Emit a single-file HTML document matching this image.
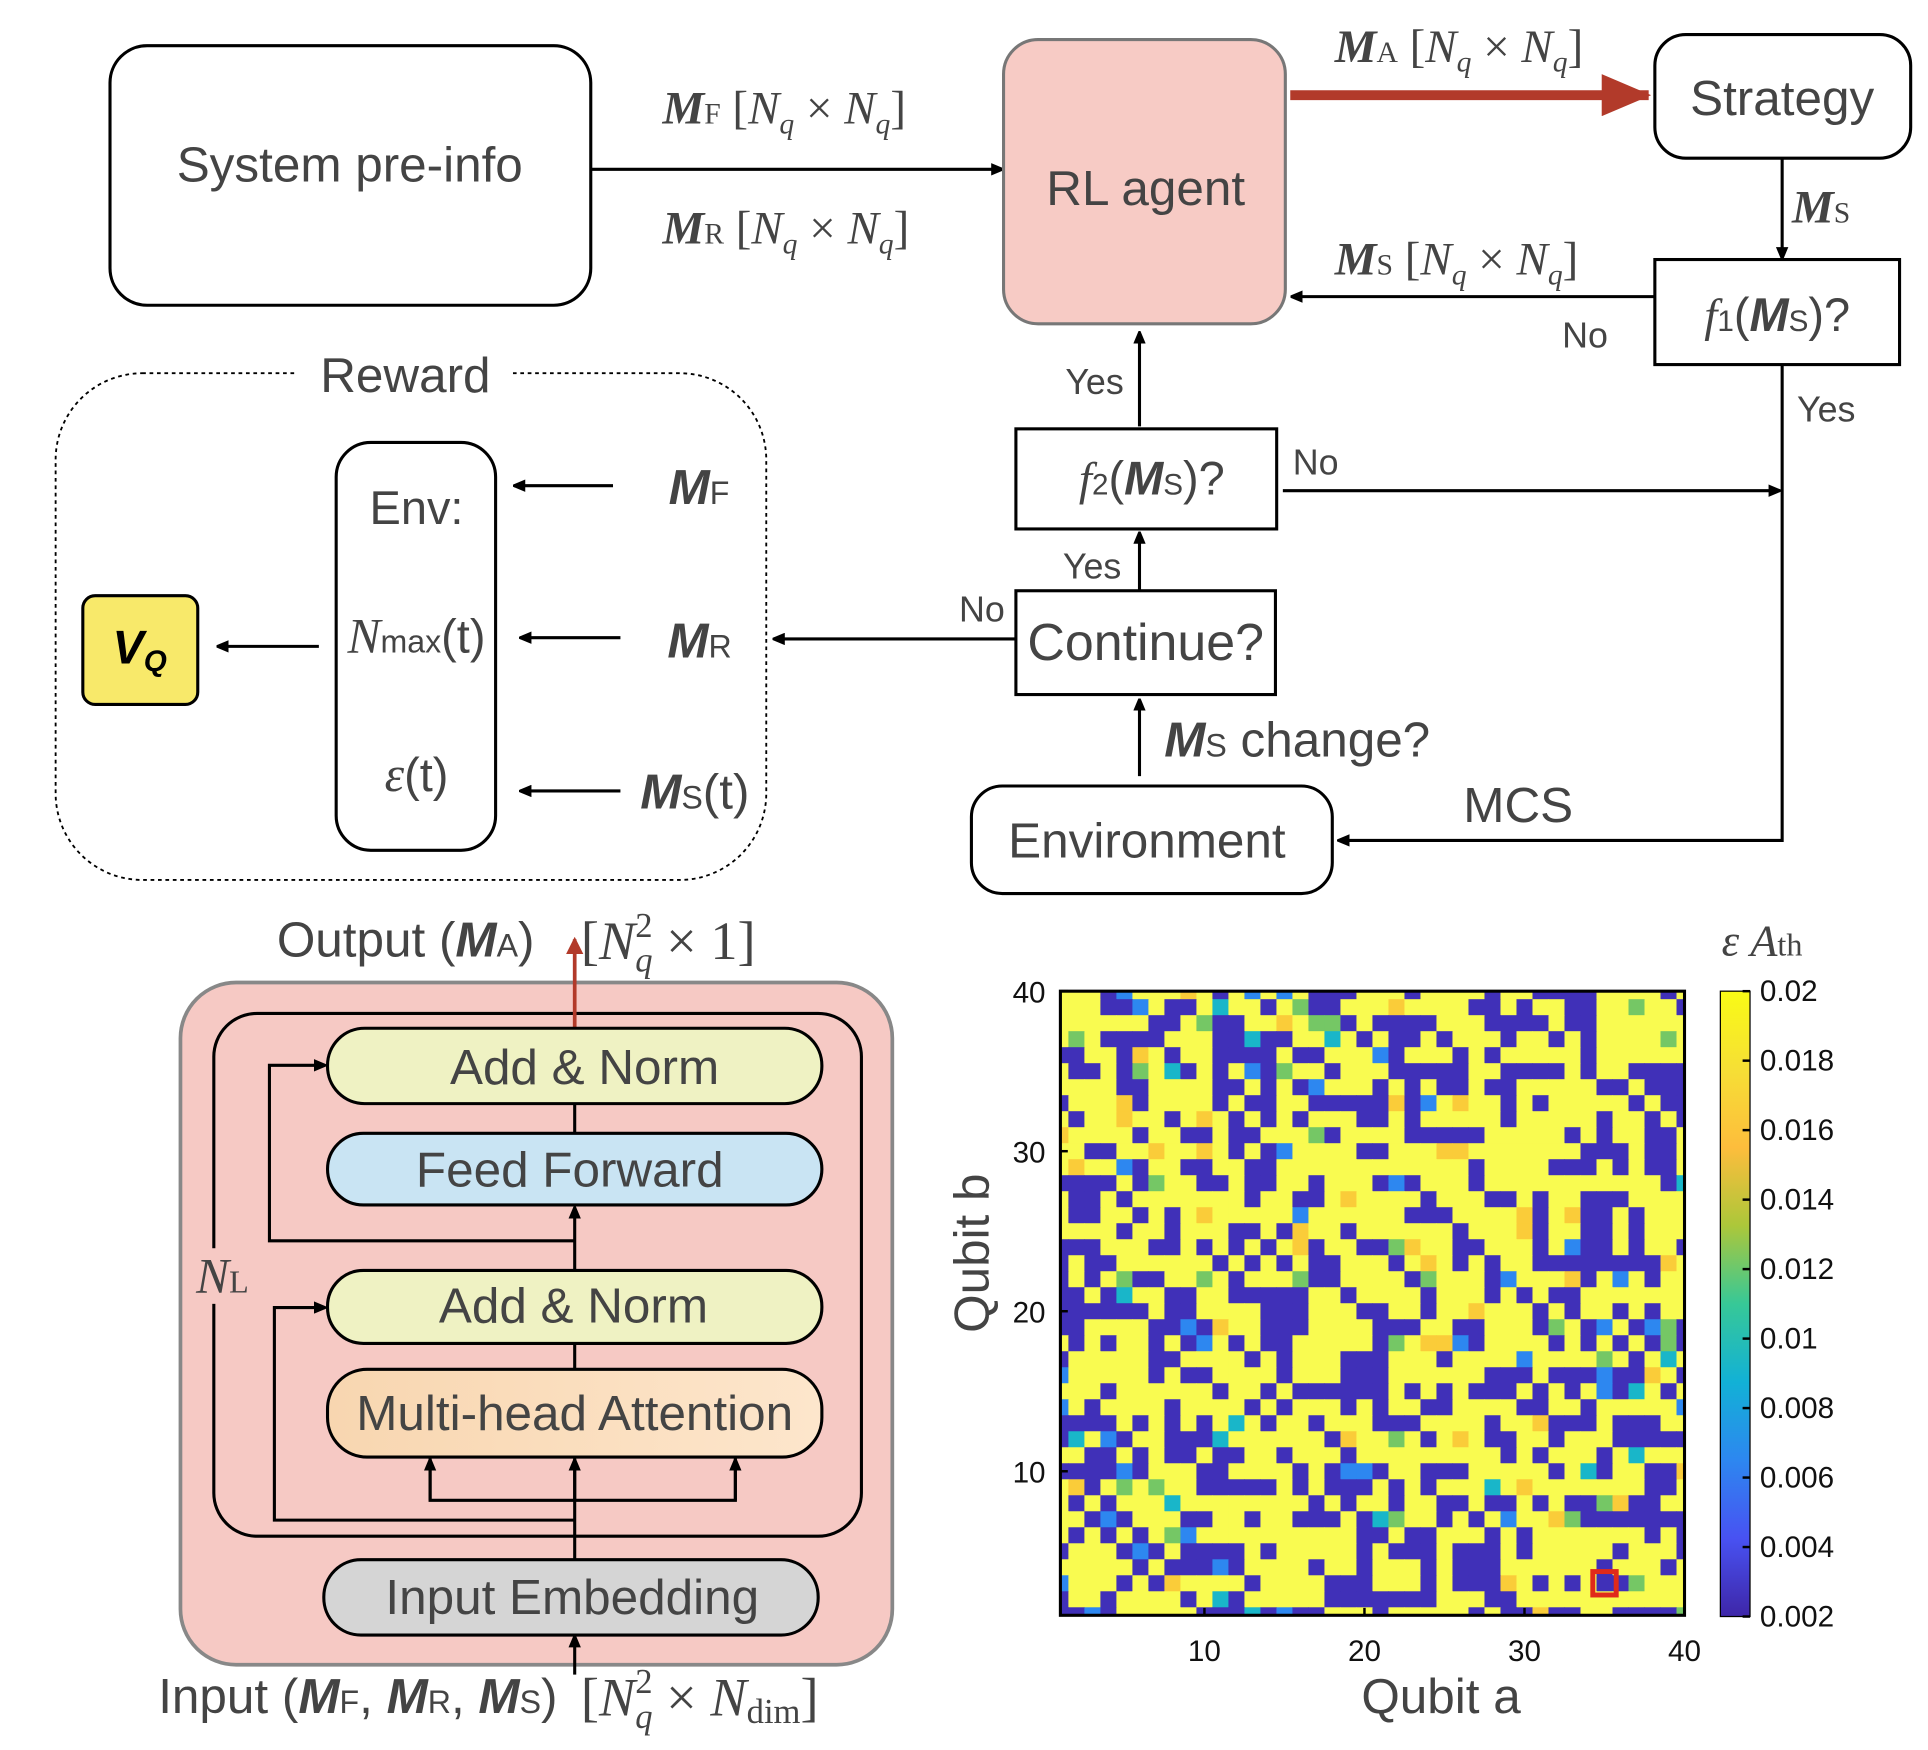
<!DOCTYPE html>
<html><head><meta charset="utf-8">
<style>
html,body{margin:0;padding:0;background:#fff;overflow:hidden;}
svg{display:block;}
.s{font-family:"Liberation Sans",sans-serif;fill:#444;}
.r{font-family:"Liberation Serif",serif;fill:#444;}
</style></head>
<body>
<svg id="fig" width="1928" height="1750" viewBox="0 0 1560 1416" xmlns="http://www.w3.org/2000/svg">
<defs>
<marker id="ah" markerWidth="10" markerHeight="10" refX="9" refY="5" orient="auto" markerUnits="userSpaceOnUse"><path d="M0,0 L12,5 L0,10 Z" fill="#000"/></marker>
<marker id="ahr" markerWidth="14" markerHeight="14" refX="12" refY="7" orient="auto" markerUnits="userSpaceOnUse"><path d="M0,0 L14,7 L0,14 Z" fill="#b23a2a"/></marker>
<marker id="ahr2" markerWidth="40" markerHeight="34" refX="38" refY="17" orient="auto" markerUnits="userSpaceOnUse"><path d="M0,0 L40,17 L0,34 Z" fill="#b23a2a"/></marker>
<linearGradient id="cb" x1="0" y1="1" x2="0" y2="0">
<stop offset="0" stop-color="#3e26a8"/><stop offset="0.125" stop-color="#4852f2"/><stop offset="0.25" stop-color="#2d87f0"/><stop offset="0.375" stop-color="#12b1d6"/><stop offset="0.5" stop-color="#37c897"/><stop offset="0.625" stop-color="#acc73a"/><stop offset="0.75" stop-color="#fdbd3c"/><stop offset="0.875" stop-color="#f6df35"/><stop offset="1" stop-color="#f9fb15"/>
</linearGradient>
<linearGradient id="mha" x1="0" y1="0" x2="1" y2="0"><stop offset="0" stop-color="#f8d6b0"/><stop offset="1" stop-color="#fde6cc"/></linearGradient>
</defs>

<!-- Top flowchart -->
<rect x="89" y="37" width="389" height="210" rx="30" fill="#fff" stroke="#000" stroke-width="2.5"/>
<text class="s" x="283" y="147" font-size="40" text-anchor="middle">System pre-info</text>
<line x1="478" y1="137" x2="811" y2="137" stroke="#000" stroke-width="2.5" marker-end="url(#ah)"/>
<text class="r" x="536" y="100" font-size="38"><tspan font-weight="bold" font-style="italic">M</tspan><tspan font-size="24">F</tspan> [<tspan font-style="italic">N</tspan><tspan font-style="italic" font-size="24" dy="8">q</tspan><tspan dy="-8"> × </tspan><tspan font-style="italic">N</tspan><tspan font-style="italic" font-size="24" dy="8">q</tspan><tspan dy="-8">]</tspan></text>
<text class="r" x="536" y="197" font-size="38"><tspan font-weight="bold" font-style="italic">M</tspan><tspan font-size="24">R</tspan> [<tspan font-style="italic">N</tspan><tspan font-style="italic" font-size="24" dy="8">q</tspan><tspan dy="-8"> × </tspan><tspan font-style="italic">N</tspan><tspan font-style="italic" font-size="24" dy="8">q</tspan><tspan dy="-8">]</tspan></text>

<rect x="812" y="32" width="228" height="230" rx="28" fill="#f7cbc5" stroke="#777" stroke-width="2.5"/>
<text class="s" x="927" y="166" font-size="40" text-anchor="middle">RL agent</text>
<line x1="1044" y1="77" x2="1334" y2="77" stroke="#b23a2a" stroke-width="8" marker-end="url(#ahr2)"/>
<text class="r" x="1080" y="50" font-size="38"><tspan font-weight="bold" font-style="italic">M</tspan><tspan font-size="24">A</tspan> [<tspan font-style="italic">N</tspan><tspan font-style="italic" font-size="24" dy="8">q</tspan><tspan dy="-8"> × </tspan><tspan font-style="italic">N</tspan><tspan font-style="italic" font-size="24" dy="8">q</tspan><tspan dy="-8">]</tspan></text>

<rect x="1339" y="28" width="207" height="100" rx="25" fill="#fff" stroke="#000" stroke-width="2.5"/>
<text class="s" x="1442" y="93" font-size="40" text-anchor="middle">Strategy</text>
<line x1="1442" y1="128" x2="1442" y2="209" stroke="#000" stroke-width="2.5" marker-end="url(#ah)"/>
<text class="r" x="1450" y="180" font-size="38"><tspan font-weight="bold" font-style="italic">M</tspan><tspan font-size="24">S</tspan></text>

<rect x="1339" y="210" width="198" height="85" fill="#fff" stroke="#000" stroke-width="2.5"/>
<text class="s" x="1438" y="268" font-size="38" text-anchor="middle"><tspan class="r" font-style="italic">f</tspan><tspan font-size="24">1</tspan>(<tspan font-weight="bold" font-style="italic">M</tspan><tspan font-size="24">S</tspan>)?</text>
<line x1="1339" y1="240" x2="1045" y2="240" stroke="#000" stroke-width="2.5" marker-end="url(#ah)"/>
<text class="r" x="1080" y="222" font-size="38"><tspan font-weight="bold" font-style="italic">M</tspan><tspan font-size="24">S</tspan> [<tspan font-style="italic">N</tspan><tspan font-style="italic" font-size="24" dy="8">q</tspan><tspan dy="-8"> × </tspan><tspan font-style="italic">N</tspan><tspan font-style="italic" font-size="24" dy="8">q</tspan><tspan dy="-8">]</tspan></text>
<text class="s" x="1264" y="281" font-size="29">No</text>
<text class="s" x="1454" y="341" font-size="29">Yes</text>
<polyline points="1442,295 1442,680 1083,680" fill="none" stroke="#000" stroke-width="2.5" marker-end="url(#ah)"/>
<text class="s" x="1184" y="665" font-size="40">MCS</text>

<rect x="786" y="636" width="292" height="87" rx="25" fill="#fff" stroke="#000" stroke-width="2.5"/>
<text class="s" x="928" y="694" font-size="40" text-anchor="middle">Environment</text>
<line x1="922" y1="628" x2="922" y2="566" stroke="#000" stroke-width="2.5" marker-end="url(#ah)"/>
<text class="s" x="942" y="612" font-size="40"><tspan font-weight="bold" font-style="italic">M</tspan><tspan font-size="26">S</tspan> change?</text>

<rect x="822" y="478" width="210" height="84" fill="#fff" stroke="#000" stroke-width="2.5"/>
<text class="s" x="927" y="534" font-size="42" text-anchor="middle">Continue?</text>
<line x1="922" y1="478" x2="922" y2="431" stroke="#000" stroke-width="2.5" marker-end="url(#ah)"/>
<text class="s" x="860" y="468" font-size="29">Yes</text>
<line x1="822" y1="517" x2="626" y2="517" stroke="#000" stroke-width="2.5" marker-end="url(#ah)"/>
<text class="s" x="776" y="503" font-size="29">No</text>

<rect x="822" y="347" width="211" height="81" fill="#fff" stroke="#000" stroke-width="2.5"/>
<text class="s" x="932" y="400" font-size="38" text-anchor="middle"><tspan class="r" font-style="italic">f</tspan><tspan font-size="24">2</tspan>(<tspan font-weight="bold" font-style="italic">M</tspan><tspan font-size="24">S</tspan>)?</text>
<line x1="1038" y1="397" x2="1440" y2="397" stroke="#000" stroke-width="2.5" marker-end="url(#ah)"/>
<text class="s" x="1046" y="384" font-size="29">No</text>
<line x1="922" y1="345" x2="922" y2="269" stroke="#000" stroke-width="2.5" marker-end="url(#ah)"/>
<text class="s" x="862" y="319" font-size="29">Yes</text>

<!-- Reward -->
<rect x="45" y="302" width="575" height="410" rx="70" fill="none" stroke="#000" stroke-width="1.5" stroke-dasharray="3,3"/>
<rect x="240" y="285" width="175" height="35" fill="#fff"/>
<text class="s" x="328" y="317" font-size="40" text-anchor="middle">Reward</text>
<rect x="272" y="358" width="129" height="330" rx="28" fill="#fff" stroke="#000" stroke-width="2.5"/>
<text class="s" x="337" y="424" font-size="38" text-anchor="middle">Env:</text>
<text class="s" x="337" y="528" font-size="38" text-anchor="middle"><tspan class="r" font-style="italic" font-size="40">N</tspan><tspan font-size="26">max</tspan>(t)</text>
<text class="s" x="337" y="640" font-size="38" text-anchor="middle"><tspan class="r" font-style="italic" font-size="40">ε</tspan>(t)</text>
<line x1="496" y1="393" x2="416" y2="393" stroke="#000" stroke-width="2.5" marker-end="url(#ah)"/>
<line x1="502" y1="516" x2="421" y2="516" stroke="#000" stroke-width="2.5" marker-end="url(#ah)"/>
<line x1="502" y1="640" x2="421" y2="640" stroke="#000" stroke-width="2.5" marker-end="url(#ah)"/>
<text class="s" x="541" y="408" font-size="40"><tspan font-weight="bold" font-style="italic">M</tspan><tspan font-size="26">F</tspan></text>
<text class="s" x="540" y="532" font-size="40"><tspan font-weight="bold" font-style="italic">M</tspan><tspan font-size="26">R</tspan></text>
<text class="s" x="518" y="654" font-size="40"><tspan font-weight="bold" font-style="italic">M</tspan><tspan font-size="26">S</tspan>(t)</text>
<line x1="258" y1="523" x2="176" y2="523" stroke="#000" stroke-width="2.5" marker-end="url(#ah)"/>
<rect x="67" y="482" width="93" height="88" rx="10" fill="#f8e96a" stroke="#000" stroke-width="2.5"/>
<text x="113" y="537" font-family="Liberation Sans, sans-serif" font-weight="bold" font-style="italic" font-size="38" text-anchor="middle" fill="#000">V<tspan font-size="24" dy="6">Q</tspan></text>

<!-- Transformer -->
<rect x="146" y="795" width="576" height="552" rx="45" fill="#f6c9c4" stroke="#888" stroke-width="3"/>
<rect x="173" y="820" width="524" height="423" rx="35" fill="none" stroke="#000" stroke-width="2.5"/>
<rect x="150" y="1010" width="50" height="45" fill="#f6c9c4"/>
<text class="r" x="180" y="1046" font-size="40" text-anchor="middle"><tspan font-style="italic">N</tspan><tspan font-size="26">L</tspan></text>
<line x1="465" y1="1323" x2="465" y2="1180" stroke="#000" stroke-width="2.5"/>
<line x1="465" y1="1108" x2="465" y2="1087" stroke="#000" stroke-width="2.5"/>
<line x1="465" y1="1028" x2="465" y2="977" stroke="#000" stroke-width="2.5" marker-end="url(#ah)"/>
<line x1="465" y1="917" x2="465" y2="893" stroke="#000" stroke-width="2.5"/>
<polyline points="348,1180 348,1214 595,1214 595,1180" fill="none" stroke="#000" stroke-width="2.5"/>
<line x1="348" y1="1214" x2="348" y2="1181" stroke="#000" stroke-width="2.5" marker-end="url(#ah)"/>
<line x1="465" y1="1214" x2="465" y2="1181" stroke="#000" stroke-width="2.5" marker-end="url(#ah)"/>
<line x1="595" y1="1214" x2="595" y2="1181" stroke="#000" stroke-width="2.5" marker-end="url(#ah)"/>
<polyline points="465,1230 222,1230 222,1058 263,1058" fill="none" stroke="#000" stroke-width="2.5" marker-end="url(#ah)"/>
<polyline points="465,1004 218,1004 218,862 263,862" fill="none" stroke="#000" stroke-width="2.5" marker-end="url(#ah)"/>
<line x1="465" y1="1355" x2="465" y2="1324" stroke="#000" stroke-width="2.5" marker-end="url(#ah)"/>
<line x1="465" y1="832" x2="465" y2="760" stroke="#b23a2a" stroke-width="3" marker-end="url(#ahr)"/>
<rect x="265" y="832" width="400" height="61" rx="30" fill="#eff2c3" stroke="#000" stroke-width="2.5"/>
<text class="s" x="473" y="877" font-size="40" text-anchor="middle">Add &amp; Norm</text>
<rect x="265" y="917" width="400" height="58" rx="29" fill="#c9e4f3" stroke="#000" stroke-width="2.5"/>
<text class="s" x="461" y="960" font-size="40" text-anchor="middle">Feed Forward</text>
<rect x="265" y="1028" width="400" height="59" rx="29" fill="#eff2c3" stroke="#000" stroke-width="2.5"/>
<text class="s" x="464" y="1070" font-size="40" text-anchor="middle">Add &amp; Norm</text>
<rect x="265" y="1108" width="400" height="71" rx="32" fill="url(#mha)" stroke="#000" stroke-width="2.5"/>
<text class="s" x="465" y="1157" font-size="40" text-anchor="middle">Multi-head Attention</text>
<rect x="262" y="1262" width="400" height="61" rx="30" fill="#d5d5d5" stroke="#000" stroke-width="2.5"/>
<text class="s" x="463" y="1306" font-size="40" text-anchor="middle">Input Embedding</text>
<text class="s" x="224" y="774" font-size="40">Output  (<tspan font-weight="bold" font-style="italic">M</tspan><tspan font-size="26">A</tspan>)</text>
<text class="r" x="470" y="776" font-size="44">[<tspan font-style="italic">N</tspan><tspan font-style="italic" font-size="28" dy="10">q</tspan><tspan font-size="28" dy="-28" dx="-14">2</tspan><tspan dy="18"> × 1]</tspan></text>
<text class="s" x="128" y="1386" font-size="40">Input (<tspan font-weight="bold" font-style="italic">M</tspan><tspan font-size="26">F</tspan>, <tspan font-weight="bold" font-style="italic">M</tspan><tspan font-size="26">R</tspan>, <tspan font-weight="bold" font-style="italic">M</tspan><tspan font-size="26">S</tspan>)</text>
<text class="r" x="470" y="1388" font-size="44">[<tspan font-style="italic">N</tspan><tspan font-style="italic" font-size="28" dy="10">q</tspan><tspan font-size="28" dy="-28" dx="-14">2</tspan><tspan dy="18"> × </tspan><tspan font-style="italic">N</tspan><tspan font-size="28" dy="6">dim</tspan><tspan dy="-6">]</tspan></text>

<!-- Heatmap -->
<g id="heat"></g>
<rect x="858" y="802" width="505" height="505" fill="none" stroke="#000" stroke-width="2.5"/>
<g id="ticks"></g>
<text class="s" x="1166" y="1386" font-size="40" text-anchor="middle">Qubit a</text>
<text class="s" transform="translate(800,1014) rotate(-90)" font-size="40" text-anchor="middle">Qubit b</text>
<rect x="1392" y="802" width="24" height="506" fill="url(#cb)" stroke="#000" stroke-width="1"/>
<g id="cbticks"></g>
<text class="r" x="1393" y="773" font-size="36" font-style="italic">ε  <tspan>A</tspan><tspan font-style="normal" font-size="26">th</tspan></text>
</svg>
<script>
const rowsTop = [
"yyyblyyyoybylylybbbyyybyyyybyybbbbyyyyby",
"yyybblybbycyybygbbyyyoyyyybbybyybbyygyyb",
"yyyyyybbygbbyyoyggbybbbbyyybbbbybbyyyyyy",
"ygybbbbyyybbcbbyycybybbybyyybyybybyyyygy",
"bbyyboybyybbbbybbyyylbyyybybyyyyybyyyyyy",
"ybbybgycbybylbgyybyyybbbbbyybbbbybyybbbb",
"yyyybbyyyybbybyblyyybybybbybbyyyyybbybbb",
"byyyobyyyybybbyybbbbboblyoyybybyyyyybybb",
"ybyyoyybyoybybybyyybbybyyyyybyyyyybyybyb",
"oyyyybyybbybbyyygbyyyybbbbbyyyyybybyybby",
"yybbyyoyyoybyblyyyybbyyyooyyyyyyybbbybby",
"yoyylbyybbyybbyyyyyyyyyyyybyyyybbbybybby",
"bbbbybgyybbybbyybyyyblbyyybyyyyyyyyyyybc",
"ybbybyyyyyyybyybbyoyyyybyyybbybyybbbyyyy",
"ybbyybybyoyyyyylyyyyyybbbyyyyobyobbybyyy",
"yyyybyybyyybbyboyybyyyyyybyyyobyybbybyyy",
"bbbyyybbybybybyobyybbgoyybbyyybylbbybyyb",
"bybbyyyyyybybybybbyyybyoybybyybbbbbbbboy",
"bybygbbyygybyyygbbyyyybgyyyblyyyobylybyy",
"bbybcyybbyybbbbbyybyyyybyyybybybbyyyyyyy",
"bbbbbbybbyyyybbbyyybbyybyyoyyybybyybybyy",
"bbyyyybblboyybbbyyyybbbyybbyyybgyblyblgb",
"ybybyybyblybybbyyyyybgyoolbyyyybybybybgb",
"byyyyybbyyyybybyyybbbyyybyyyylyyyygybycy",
"lyyyyybybbyyyybyyybbbyyyyyybbbybbblbboyb",
"yyybyyyyyybyybybbbbbbybybybbbybybylbcyby",
"lybyyyybyyyybybyyybybyybbyyyybbyybyyyyyl",
"bbbbybybybycybyybyyybbbyyyybyyobbbybbbyy",
"bcylbyybbbcyyyyyyboyygybyoybbyybyyybbbbb",
"yybbybybbybbyybyyybyyyyyyyyybybyyybycyyy",
"bbbblbyyybbyyyybybllbyybbbyyyyybycbyybbo",
"yobygygyybbbbbybybbbybybyyycyoyyyyyyybby",
"ybybyyycyyyyyyyybybyybyybbybbybybbgobbyy",
"yyblbyyybbyybyybbbybcgyybybylyyogbbbbbbb",
"ybybybyglyyyyyyyyyybbybbyyybybyyyyyyybyb",
"byyyblbybbbbybyyyyybybbbybbbybyyyyybyyybb",
"yyyyybybbblbyyyybyybyyybybbbyyyyyybyyyby",
"lyyybyboyyyybyyyybbbyyybybbboybybybbgyyy",
"byybyyyybycbyyyyybbbbbbbyyybbyyyyyyyyyyy",
"bblbyyyyybbbcblbbyyybyyyyybybbobbyybbbbg"
];
const levelChars = ["b","l","c","g","o","y"];
const levelValues = [0.0025, 0.0065, 0.0092, 0.0122, 0.0165, 0.02];
const xTicks = [10, 20, 30, 40];
const yTicks = [10, 20, 30, 40];
const cbTicks = [0.002, 0.004, 0.006, 0.008, 0.01, 0.012, 0.014, 0.016, 0.018, 0.02];
const cbLabels = ["0.002","0.004","0.006","0.008","0.01","0.012","0.014","0.016","0.018","0.02"];
const marked = [35, 3];

const X0 = 858, X1 = 1363, Y0 = 1307, Y1 = 802;
function sx(v){ return X0 + (v - 1) * (X1 - X0) / 39; }
function sy(v){ return Y0 - (v - 1) * (Y0 - Y1) / 39; }
const vMin = 0.002, vMax = 0.02;
function cy(v){ return 1308 - (v - vMin) / (vMax - vMin) * 506; }
const stops = [[0,[62,38,168]],[0.125,[72,82,242]],[0.25,[45,135,240]],[0.375,[18,177,214]],[0.5,[55,200,151]],[0.625,[172,199,58]],[0.75,[253,189,60]],[0.875,[246,223,53]],[1,[249,251,80]]];
function color(v){
  let t = Math.max(0, Math.min(1, (v - vMin) / (vMax - vMin)));
  for (let i = 1; i < stops.length; i++) {
    if (t <= stops[i][0]) {
      const a = stops[i-1], b = stops[i];
      const f = (t - a[0]) / (b[0] - a[0]);
      const c = a[1].map((x, k) => Math.round(x + (b[1][k] - x) * f));
      return "rgb(" + c.join(",") + ")";
    }
  }
  return "rgb(249,251,80)";
}
const NS = "http://www.w3.org/2000/svg";
const heat = document.getElementById("heat");
const cw = (X1 - X0) / 39;
for (let r = 0; r < 40; r++) {
  const qb = 40 - r;
  const row = rowsTop[r];
  for (let c = 0; c < 40; c++) {
    const qa = c + 1;
    const ch = row.charAt(c) || "y";
    const idx = levelChars.indexOf(ch);
    const val = levelValues[idx < 0 ? 5 : idx];
    const x0 = Math.max(X0, sx(qa - 0.5)), x1 = Math.min(X1, sx(qa + 0.5));
    const y0 = Math.max(Y1, sy(qb + 0.5)), y1 = Math.min(Y0, sy(qb - 0.5));
    const el = document.createElementNS(NS, "rect");
    
    
    el.setAttribute("x", x0); el.setAttribute("y", y0);
    el.setAttribute("width", x1 - x0 + 0.4); el.setAttribute("height", y1 - y0 + 0.4);
    el.setAttribute("fill", color(val));
    heat.appendChild(el);
  }
}
{
  const el = document.createElementNS(NS, "rect");
  
  
  el.setAttribute("x", sx(marked[0] - 0.5) - 3); el.setAttribute("y", sy(marked[1] + 0.5) - 3);
  el.setAttribute("width", cw + 6); el.setAttribute("height", cw + 6);
  el.setAttribute("fill", "none"); el.setAttribute("stroke", "#e02a1a"); el.setAttribute("stroke-width", "4");
  heat.appendChild(el);
}
const ticks = document.getElementById("ticks");
function addText(parent, x, y, s, anchor, name){
  const t = document.createElementNS(NS, "text");
  
  
  t.setAttribute("x", x); t.setAttribute("y", y);
  t.setAttribute("font-size", "24"); t.setAttribute("text-anchor", anchor);
  t.setAttribute("font-family", "Liberation Sans, sans-serif"); t.setAttribute("fill", "#111");
  t.textContent = s; parent.appendChild(t);
}
function addLine(parent, x1, y1, x2, y2, name){
  const l = document.createElementNS(NS, "line");
  
  
  l.setAttribute("x1", x1); l.setAttribute("y1", y1); l.setAttribute("x2", x2); l.setAttribute("y2", y2);
  l.setAttribute("stroke", "#000"); l.setAttribute("stroke-width", "2"); parent.appendChild(l);
}
xTicks.forEach(v => { addLine(ticks, sx(v), Y0, sx(v), Y0 - 6, 'x-tick'); addText(ticks, sx(v), 1344, String(v), "middle", 'x-tick-label'); });
yTicks.forEach(v => { addLine(ticks, X0, sy(v), X0 + 6, sy(v), 'y-tick'); addText(ticks, 846, sy(v) + 9, String(v), "end", 'y-tick-label'); });
const cbt = document.getElementById("cbticks");
cbTicks.forEach((v, i) => { addLine(cbt, 1410, cy(v), 1416, cy(v), 'colorbar-tick'); addText(cbt, 1424, cy(v) + 8, cbLabels[i], "start", 'colorbar-tick-label'); });
</script>
</body></html>
